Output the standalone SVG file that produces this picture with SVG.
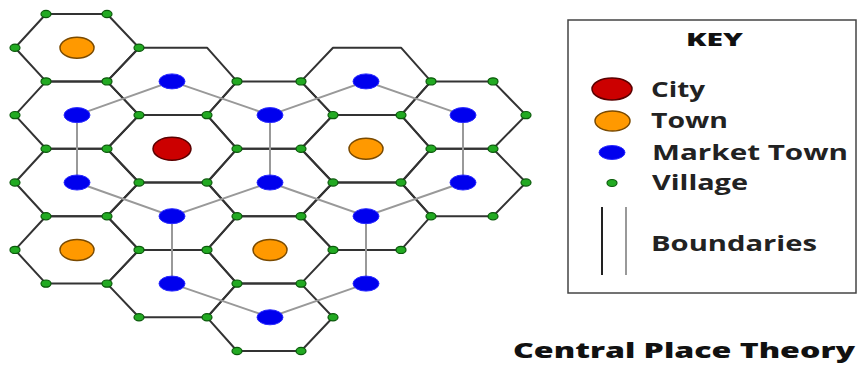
<svg xmlns="http://www.w3.org/2000/svg" width="857" height="367" viewBox="0 0 857 367">
<style>
.hex{fill:none;stroke:#333;stroke-width:2;stroke-linejoin:round}
.link{stroke:#999;stroke-width:2;fill:none}
.city{fill:#cc0000;stroke:#5a0000;stroke-width:1.5}
.town{fill:#ff9900;stroke:#7a4a00;stroke-width:1.5}
.market{fill:#0000ee;stroke:#2a2aff;stroke-width:1}
.village{fill:#22aa22;stroke:#0a5a0a;stroke-width:1.2}
.t{font-family:"Open Sans","Liberation Sans",sans-serif;fill:#222;font-weight:700;font-size:21px}
.b{font-family:"Open Sans","Liberation Sans",sans-serif;fill:#111;font-weight:800}
</style>
<rect width="857" height="367" fill="#fff"/>
<g id="connectors">
<g id="boundaries">
<polygon class="hex" points="15,47.7 46,14 107,14 139,47.7 107,81.4 46,81.4"/>
<polygon class="hex" points="15,115.1 46,81.4 107,81.4 139,115.1 107,148.8 46,148.8"/>
<polygon class="hex" points="15,182.5 46,148.8 107,148.8 139,182.5 107,216.2 46,216.2"/>
<polygon class="hex" points="15,249.9 46,216.2 107,216.2 139,249.9 107,283.6 46,283.6"/>
<polygon class="hex" points="107,81.4 139,47.7 207,47.7 237,81.4 207,115.1 139,115.1"/>
<polygon class="hex" points="107,148.8 139,115.1 207,115.1 237,148.8 207,182.5 139,182.5"/>
<polygon class="hex" points="107,216.2 139,182.5 207,182.5 237,216.2 207,249.9 139,249.9"/>
<polygon class="hex" points="107,283.6 139,249.9 207,249.9 237,283.6 207,317.3 139,317.3"/>
<polygon class="hex" points="207,115.1 237,81.4 301,81.4 333,115.1 301,148.8 237,148.8"/>
<polygon class="hex" points="207,182.5 237,148.8 301,148.8 333,182.5 301,216.2 237,216.2"/>
<polygon class="hex" points="207,249.9 237,216.2 301,216.2 333,249.9 301,283.6 237,283.6"/>
<polygon class="hex" points="207,317.3 237,283.6 301,283.6 333,317.3 301,351 237,351"/>
<polygon class="hex" points="301,81.4 333,47.7 401,47.7 431,81.4 401,115.1 333,115.1"/>
<polygon class="hex" points="301,148.8 333,115.1 401,115.1 431,148.8 401,182.5 333,182.5"/>
<polygon class="hex" points="301,216.2 333,182.5 401,182.5 431,216.2 401,249.9 333,249.9"/>
<polygon class="hex" points="401,115.1 431,81.4 493,81.4 526,115.1 493,148.8 431,148.8"/>
<polygon class="hex" points="401,182.5 431,148.8 493,148.8 526,182.5 493,216.2 431,216.2"/>
</g>
<g id="market-links">
<polygon class="link" points="172,81.4 270,115.1 270,182.5 172,216.2 77,182.5 77,115.1"/>
<polyline class="link" points="270,115.1 366,81.4 463,115.1 463,182.5 366,216.2 270,182.5"/>
<polyline class="link" points="366,216.2 366,283.6 270,317.3 172,283.6 172,216.2"/>
</g>
</g>
<g id="villages">
<g class="village">
<ellipse cx="46" cy="14" rx="5" ry="3.6"/><ellipse cx="107" cy="14" rx="5" ry="3.6"/>
<ellipse cx="15" cy="47.7" rx="5" ry="3.6"/><ellipse cx="139" cy="47.7" rx="5" ry="3.6"/>
<ellipse cx="46" cy="81.4" rx="5" ry="3.6"/><ellipse cx="107" cy="81.4" rx="5" ry="3.6"/><ellipse cx="237" cy="81.4" rx="5" ry="3.6"/><ellipse cx="301" cy="81.4" rx="5" ry="3.6"/><ellipse cx="431" cy="81.4" rx="5" ry="3.6"/><ellipse cx="493" cy="81.4" rx="5" ry="3.6"/>
<ellipse cx="15" cy="115.1" rx="5" ry="3.6"/><ellipse cx="139" cy="115.1" rx="5" ry="3.6"/><ellipse cx="207" cy="115.1" rx="5" ry="3.6"/><ellipse cx="333" cy="115.1" rx="5" ry="3.6"/><ellipse cx="401" cy="115.1" rx="5" ry="3.6"/><ellipse cx="526" cy="115.1" rx="5" ry="3.6"/>
<ellipse cx="46" cy="148.8" rx="5" ry="3.6"/><ellipse cx="107" cy="148.8" rx="5" ry="3.6"/><ellipse cx="237" cy="148.8" rx="5" ry="3.6"/><ellipse cx="301" cy="148.8" rx="5" ry="3.6"/><ellipse cx="431" cy="148.8" rx="5" ry="3.6"/><ellipse cx="493" cy="148.8" rx="5" ry="3.6"/>
<ellipse cx="15" cy="182.5" rx="5" ry="3.6"/><ellipse cx="139" cy="182.5" rx="5" ry="3.6"/><ellipse cx="207" cy="182.5" rx="5" ry="3.6"/><ellipse cx="333" cy="182.5" rx="5" ry="3.6"/><ellipse cx="401" cy="182.5" rx="5" ry="3.6"/><ellipse cx="526" cy="182.5" rx="5" ry="3.6"/>
<ellipse cx="46" cy="216.2" rx="5" ry="3.6"/><ellipse cx="107" cy="216.2" rx="5" ry="3.6"/><ellipse cx="237" cy="216.2" rx="5" ry="3.6"/><ellipse cx="301" cy="216.2" rx="5" ry="3.6"/><ellipse cx="431" cy="216.2" rx="5" ry="3.6"/><ellipse cx="493" cy="216.2" rx="5" ry="3.6"/>
<ellipse cx="15" cy="249.9" rx="5" ry="3.6"/><ellipse cx="139" cy="249.9" rx="5" ry="3.6"/><ellipse cx="207" cy="249.9" rx="5" ry="3.6"/><ellipse cx="333" cy="249.9" rx="5" ry="3.6"/><ellipse cx="401" cy="249.9" rx="5" ry="3.6"/>
<ellipse cx="46" cy="283.6" rx="5" ry="3.6"/><ellipse cx="107" cy="283.6" rx="5" ry="3.6"/><ellipse cx="237" cy="283.6" rx="5" ry="3.6"/><ellipse cx="301" cy="283.6" rx="5" ry="3.6"/>
<ellipse cx="139" cy="317.3" rx="5" ry="3.6"/><ellipse cx="207" cy="317.3" rx="5" ry="3.6"/><ellipse cx="333" cy="317.3" rx="5" ry="3.6"/>
<ellipse cx="237" cy="351" rx="5" ry="3.6"/><ellipse cx="301" cy="351" rx="5" ry="3.6"/>
</g>
</g>
<g id="market-towns">
<g class="market">
<ellipse cx="172" cy="81.4" rx="13" ry="7.5"/><ellipse cx="366" cy="81.4" rx="13" ry="7.5"/>
<ellipse cx="77" cy="115.1" rx="13" ry="7.5"/><ellipse cx="270" cy="115.1" rx="13" ry="7.5"/><ellipse cx="463" cy="115.1" rx="13" ry="7.5"/>
<ellipse cx="77" cy="182.5" rx="13" ry="7.5"/><ellipse cx="270" cy="182.5" rx="13" ry="7.5"/><ellipse cx="463" cy="182.5" rx="13" ry="7.5"/>
<ellipse cx="172" cy="216.2" rx="13" ry="7.5"/><ellipse cx="366" cy="216.2" rx="13" ry="7.5"/>
<ellipse cx="172" cy="283.6" rx="13" ry="7.5"/><ellipse cx="366" cy="283.6" rx="13" ry="7.5"/>
<ellipse cx="270" cy="317.3" rx="13" ry="7.5"/>
</g>
</g>
<g id="towns">
<g class="town">
<ellipse cx="77" cy="47.7" rx="17" ry="10.5"/>
<ellipse cx="366" cy="148.8" rx="17" ry="10.5"/>
<ellipse cx="77" cy="249.9" rx="17" ry="10.5"/>
<ellipse cx="270" cy="249.9" rx="17" ry="10.5"/>
</g>
</g>
<g id="city">
<ellipse class="city" cx="172" cy="148.8" rx="19" ry="11.5"/>
</g>
<g id="key">
<rect x="568" y="20" width="288" height="273" fill="none" stroke="#444" stroke-width="1.5"/>
<text class="b" x="686" y="46" font-size="18" textLength="57" lengthAdjust="spacingAndGlyphs">KEY</text>
<ellipse class="city" cx="612" cy="89" rx="20" ry="11"/>
<text class="t" x="651" y="97" textLength="54" lengthAdjust="spacingAndGlyphs">City</text>
<ellipse class="town" cx="612.5" cy="121" rx="17.5" ry="10"/>
<text class="t" x="651" y="128" textLength="77" lengthAdjust="spacingAndGlyphs">Town</text>
<ellipse class="market" cx="612" cy="152.5" rx="13" ry="7"/>
<text class="t" x="652" y="160" textLength="196" lengthAdjust="spacingAndGlyphs">Market Town</text>
<ellipse class="village" cx="612" cy="183" rx="5" ry="3.5"/>
<text class="t" x="652" y="190" textLength="96" lengthAdjust="spacingAndGlyphs">Village</text>
<line x1="602" y1="207" x2="602" y2="275" stroke="#222" stroke-width="2"/>
<line x1="626" y1="207" x2="626" y2="275" stroke="#999" stroke-width="2"/>
<text class="t" x="651" y="251" textLength="166" lengthAdjust="spacingAndGlyphs">Boundaries</text>
</g>
<text id="title" class="b" x="513" y="358" font-size="21" textLength="342" lengthAdjust="spacingAndGlyphs">Central Place Theory</text>
</svg>
